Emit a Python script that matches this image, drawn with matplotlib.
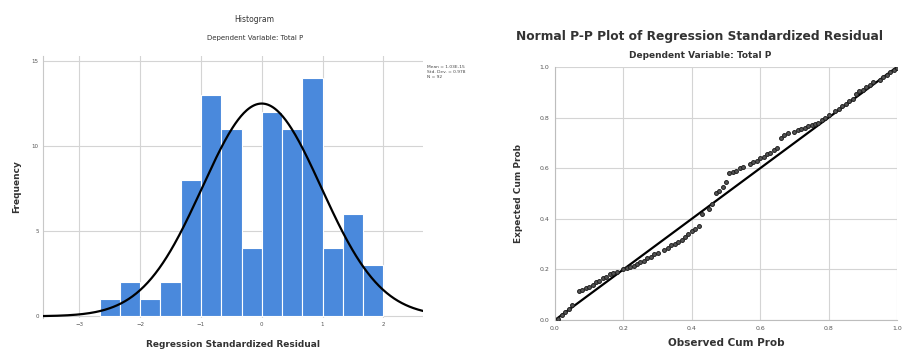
import numpy as np
import matplotlib
matplotlib.use("Agg")
import matplotlib.pyplot as plt

plt.rcParams['font.family'] = ['DejaVu Sans']

# ---------------- data ----------------
hist_counts = [1, 2, 1, 2, 8, 13, 11, 4, 12, 11, 14, 4, 6, 3]
hist_edges = [-2.667, -2.333, -2.0, -1.667, -1.333, -1.0, -0.667, -0.333,
              0.0, 0.333, 0.667, 1.0, 1.333, 1.667, 2.0]
hist_xticks = [-3, -2, -1, 0, 1, 2]
hist_yticks = [0, 5, 10, 15]
res_mean = 1.03e-15
res_std = 0.978
res_n = 92

pp_observed = [0.01, 0.02, 0.03, 0.04, 0.05, 0.07, 0.08, 0.09, 0.10, 0.11,
               0.12, 0.13, 0.14, 0.15, 0.16, 0.17, 0.18, 0.20, 0.21, 0.22,
               0.23, 0.24, 0.25, 0.26, 0.27, 0.28, 0.29, 0.30, 0.32, 0.33,
               0.34, 0.35, 0.36, 0.37, 0.38, 0.39, 0.40, 0.41, 0.42, 0.43,
               0.45, 0.46, 0.47, 0.48, 0.49, 0.50, 0.51, 0.52, 0.53, 0.54,
               0.55, 0.57, 0.58, 0.59, 0.60, 0.61, 0.62, 0.63, 0.64, 0.65,
               0.66, 0.67, 0.68, 0.70, 0.71, 0.72, 0.73, 0.74, 0.75, 0.76,
               0.77, 0.78, 0.79, 0.80, 0.82, 0.83, 0.84, 0.85, 0.86, 0.87,
               0.88, 0.89, 0.90, 0.91, 0.92, 0.93, 0.95, 0.96, 0.97, 0.98,
               0.99, 1.00]
pp_expected = [0.005, 0.02, 0.03, 0.045, 0.06, 0.115, 0.12, 0.125, 0.13, 0.14,
               0.15, 0.155, 0.165, 0.17, 0.18, 0.185, 0.19, 0.20, 0.205, 0.21,
               0.215, 0.22, 0.23, 0.235, 0.245, 0.25, 0.26, 0.265, 0.275, 0.285,
               0.295, 0.30, 0.31, 0.315, 0.33, 0.34, 0.35, 0.36, 0.37, 0.42,
               0.44, 0.46, 0.50, 0.51, 0.525, 0.545, 0.58, 0.585, 0.59, 0.60,
               0.605, 0.615, 0.625, 0.63, 0.64, 0.645, 0.655, 0.66, 0.67, 0.68,
               0.72, 0.73, 0.74, 0.745, 0.75, 0.755, 0.76, 0.765, 0.77, 0.775,
               0.78, 0.79, 0.80, 0.81, 0.825, 0.835, 0.845, 0.855, 0.865, 0.875,
               0.895, 0.905, 0.91, 0.92, 0.93, 0.94, 0.95, 0.96, 0.97, 0.98,
               0.99, 0.995]
pp_ticks = [0.0, 0.2, 0.4, 0.6, 0.8, 1.0]
pp_ticklabels = ['0.0', '0.2', '0.4', '0.6', '0.8', '1.0']

# ---------------- figure ----------------
fig = plt.figure(figsize=(9.03, 3.52), dpi=100)
grid_c = '#d4d4d4'
tick_c = '#555555'
bar_c = '#4a89dc'

# Histogram
ax1 = fig.add_axes([0.0476, 0.0966, 0.4206, 0.744])
edges = np.array(hist_edges)
ax1.bar(edges[:-1], hist_counts, width=np.diff(edges), align='edge',
        color=bar_c, edgecolor='white', linewidth=0.8, zorder=2)
xs = np.linspace(-3.6, 2.65, 400)
bw = np.mean(np.diff(edges))
curve = res_n * bw / (res_std * np.sqrt(2 * np.pi)) * np.exp(-0.5 * ((xs - 0) / res_std) ** 2)
ax1.plot(xs, curve, color='black', lw=1.6, zorder=3)
ax1.set_xlim(-3.6, 2.65)
ax1.set_ylim(-0.1, 15.3)
ax1.set_xticks(hist_xticks)
ax1.set_yticks(hist_yticks)
ax1.tick_params(labelsize=4, colors=tick_c, length=0, pad=3)
ax1.grid(True, color=grid_c, lw=0.8, zorder=0)
ax1.set_axisbelow(True)
for s in ['top', 'right', 'bottom']:
    ax1.spines[s].set_visible(False)
ax1.spines['left'].set_color('#c8c8c8')
ax1.set_xlabel('Regression Standardized Residual', fontsize=6.5,
               fontweight='bold', color='#333333', labelpad=9)
ax1.set_ylabel('Frequency', fontsize=6.5, fontweight='bold', color='#333333', labelpad=8)
fig.text(0.282, 0.946, 'Histogram', ha='center', va='center', fontsize=5.5, color='#333333')
fig.text(0.282, 0.892, 'Dependent Variable: Total P', ha='center', va='center',
         fontsize=5, color='#333333')
fig.text(0.473, 0.815, 'Mean = %.2E\nStd. Dev. = %.3f\nN = %d' % (res_mean, res_std, res_n),
         ha='left', va='top', fontsize=3.2, color='#444444', linespacing=1.3)

# P-P plot
ax2 = fig.add_axes([0.6146, 0.0909, 0.3788, 0.7188])
ax2.plot([0, 1], [0, 1], color='black', lw=1.6, zorder=2)
ax2.plot(pp_observed, pp_expected, linestyle='none', marker='o', markersize=2.8,
         markerfacecolor='#555555', markeredgecolor='#1e1e1e', markeredgewidth=0.7, zorder=3)
ax2.set_xlim(0, 1)
ax2.set_ylim(0, 1)
ax2.set_xticks(pp_ticks)
ax2.set_xticklabels(pp_ticklabels)
ax2.set_yticks(pp_ticks)
ax2.set_yticklabels(pp_ticklabels)
ax2.tick_params(labelsize=4.5, colors=tick_c, length=0, pad=4)
ax2.grid(True, color=grid_c, lw=0.8, zorder=0)
ax2.set_axisbelow(True)
for s in ['top', 'right']:
    ax2.spines[s].set_visible(False)
ax2.spines['left'].set_color('#bdbdbd')
ax2.spines['bottom'].set_color('#bdbdbd')
ax2.set_xlabel('Observed Cum Prob', fontsize=7.5, fontweight='bold', color='#333333', labelpad=5)
ax2.set_ylabel('Expected Cum Prob', fontsize=6.5, fontweight='bold', color='#333333', labelpad=12)
fig.text(0.775, 0.895, 'Normal P-P Plot of Regression Standardized Residual',
         ha='center', va='center', fontsize=8.8, fontweight='bold', color='#333333')
fig.text(0.775, 0.843, 'Dependent Variable: Total P', ha='center', va='center',
         fontsize=6.5, fontweight='bold', color='#333333')

fig.savefig('out.png', dpi=100)
